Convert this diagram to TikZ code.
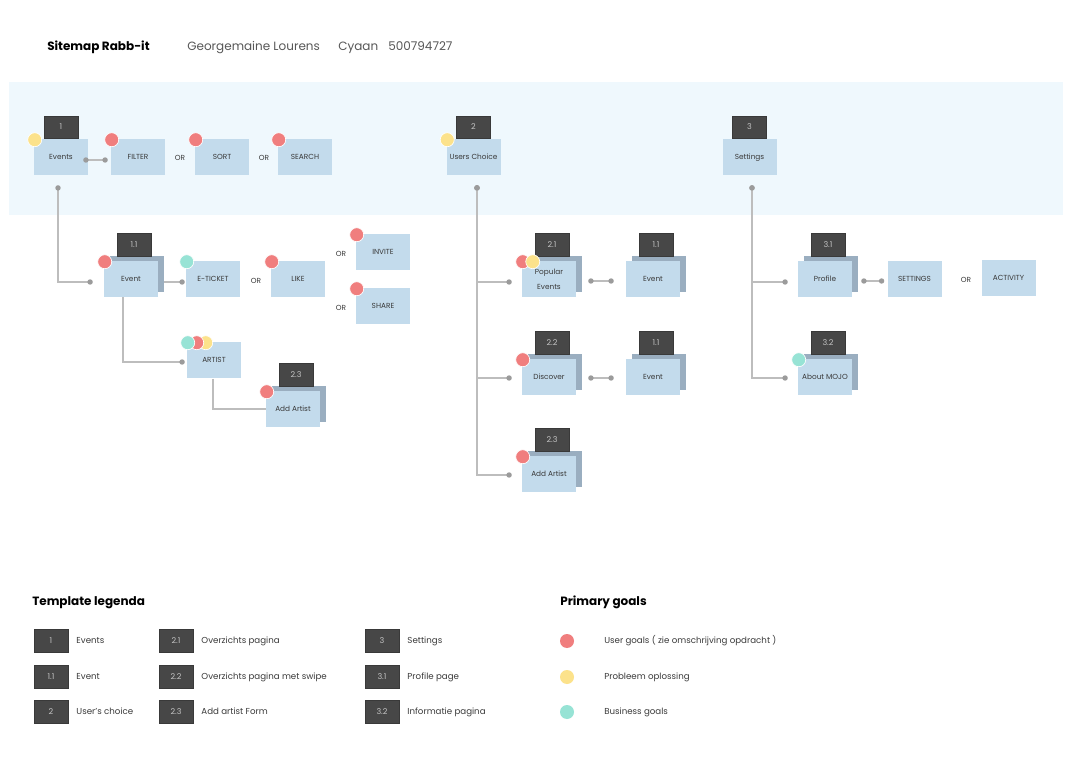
\documentclass[tikz,border=0pt]{standalone}
\usepackage{fontspec}
\setmainfont{Poppins}
\usetikzlibrary{arrows.meta,positioning}
\definecolor{bandc}{HTML}{EFF8FD}
\definecolor{pagec}{HTML}{C3DBEC}
\definecolor{backc}{HTML}{9AAEC0}
\definecolor{tabc}{HTML}{474747}
\definecolor{tabtxt}{HTML}{C4C4C4}
\definecolor{txtc}{HTML}{3A3A3A}
\definecolor{redc}{HTML}{F07E7E}
\definecolor{yelc}{HTML}{FCE28B}
\definecolor{cyanc}{HTML}{97E3D5}
\definecolor{linec}{HTML}{BDBDBD}
\definecolor{dotc}{HTML}{9B9B9B}
\tikzstyle{page}=[rectangle, fill=pagec, minimum width=40.5pt, minimum height=27pt, inner sep=0pt, align=center, text=txtc, text height=4pt, text depth=0.5pt, font=\fontsize{5.5}{11}\selectfont]
\tikzstyle{back}=[rectangle, fill=backc, minimum width=40.5pt, minimum height=27pt, inner sep=0pt]
\tikzstyle{tab}=[rectangle, fill=tabc, draw=tabc!80!black, line width=0.3pt, minimum width=25.5pt, minimum height=17pt, inner sep=0pt, text=tabtxt, text height=4.3pt, text depth=0.3pt, font=\fontsize{6}{7}\selectfont]
\tikzstyle{goal}=[circle, minimum size=10.5pt, inner sep=0pt, draw=white, line width=0.5pt]
\tikzstyle{ortext}=[inner sep=0pt, text=txtc, font=\fontsize{5.5}{7}\selectfont]
\tikzstyle{link}=[draw=linec, line width=0.9pt]
\tikzstyle{twodot}=[link, {Circle[length=4pt,color=dotc]}-{Circle[length=4pt,color=dotc]}]
\tikzstyle{enddot}=[link, -{Circle[length=4pt,color=dotc]}]
\tikzstyle{legtext}=[inner sep=0pt, anchor=west, text=txtc, text height=4.8pt, text depth=0.6pt, font=\fontsize{6.5}{8}\selectfont]
\tikzstyle{headtext}=[inner sep=0pt, anchor=base west, font=\fontsize{9}{11}\selectfont]
% page with a second sheet behind it and its number tab
\newcommand{\stackpage}[6][]{%
  \node[back] (#2bk) at ({#3+6},{#4-5}) {};
  \node[page,#1] (#2) at (#3,#4) {#6};
  \node[tab, anchor=south] (#2tab) at ({#3+3},{#4-23}) {#5};
}
\begin{document}
\begin{tikzpicture}[x=0.75pt,y=-0.75pt]
\useasboundingbox (0,0) rectangle (1072,759);
\fill[white] (0,0) rectangle (1072,759);
\fill[bandc] (9,82) rectangle (1063,215);

% header
\node[headtext, font=\fontsize{9}{11}\selectfont\bfseries] (title) at (47,51) {Sitemap Rabb-it};
\node[headtext, text=txtc!85] (author) at (187,51) {Georgemaine Lourens};
\node[headtext, text=txtc!85] (group) at (338,51) {Cyaan};
\node[headtext, text=txtc!85] (stnr) at (388,51) {500794727};

% level 1
\node[page] (events) at (61,157) {Events};
\node[tab, anchor=south] (eventstab) at (events.north) {1};
\node[page] (filter) at (138,157) {FILTER};
\node[ortext] (or1) at (180,158) {OR};
\node[page] (sort) at (222,157) {SORT};
\node[ortext] (or2) at (264,158) {OR};
\node[page] (search) at (305,157) {SEARCH};
\node[page] (users) at (473.5,157) {Users Choice};
\node[tab, anchor=south] (userstab) at (users.north) {2};
\node[page] (settings) at (749.5,157) {Settings};
\node[tab, anchor=south] (settingstab) at (settings.north) {3};

% level 2, events
\stackpage{event}{131}{279}{1.1}{Event}
\node[page] (eticket) at (213,279) {E-TICKET};
\node[ortext] (or3) at (256,281) {OR};
\node[page] (like) at (298,279) {LIKE};
\node[ortext] (or4) at (341,254) {OR};
\node[page] (invite) at (383,252) {INVITE};
\node[ortext] (or5) at (341,308) {OR};
\node[page] (share) at (383,306) {SHARE};
\node[page] (artist) at (214,360.5) {ARTIST};
\stackpage{addartist}{293}{409}{2.3}{Add Artist}

% level 2, users choice
\stackpage[text height=, text depth=]{popular}{549}{279}{2.1}{Popular\\Events}
\stackpage{popevent}{653}{279}{1.1}{Event}
\stackpage{discover}{549}{377}{2.2}{Discover}
\stackpage{discevent}{653}{377}{1.1}{Event}
\stackpage{addartistb}{549}{474}{2.3}{Add Artist}

% level 2, settings
\stackpage{profile}{825}{279}{3.1}{Profile}
\node[page] (setpage) at (914.5,279) {SETTINGS};
\node[ortext] (or6) at (966,280) {OR};
\node[page] (activity) at (1008.5,278) {ACTIVITY};
\stackpage{about}{825}{377}{3.2}{About MOJO}

% connectors
\draw[twodot] ([shift={(-5,3)}]events.east) -- ([shift={(-3,3)}]filter.west);
\draw[twodot] ([shift={(-3,10)}]events.south) |- ([shift={(-11,3)}]event.west);
\draw[enddot] ([shift={(0,8)}]eventbk.east) -- ([shift={(-1,3)}]eticket.west);
\draw[enddot] ([shift={(-8,0)}]event.south) |- ([shift={(-2,1.5)}]artist.west);
\draw[link] ([shift={(-1,0)}]artist.south) |- (addartist.west);
\draw[twodot] ([shift={(3.5,10)}]users.south) |- ([shift={(-10,3)}]popular.west);
\draw[twodot] ([shift={(3.5,10)}]users.south) |- ([shift={(-10,1)}]discover.west);
\draw[twodot] ([shift={(3.5,10)}]users.south) |- ([shift={(-10,1)}]addartistb.west);
\draw[twodot] ([shift={(6,7)}]popularbk.east) -- ([shift={(-12,2)}]popevent.west);
\draw[twodot] ([shift={(6,6)}]discoverbk.east) -- ([shift={(-12,1)}]discevent.west);
\draw[twodot] ([shift={(2.5,10)}]settings.south) |- ([shift={(-10,3)}]profile.west);
\draw[twodot] ([shift={(2.5,10)}]settings.south) |- ([shift={(-10,1)}]about.west);
\draw[twodot] ([shift={(3,7)}]profilebk.east) -- ([shift={(-3,2)}]setpage.west);

% goals
\node[goal, fill=yelc] (g1) at ([shift={(1,1)}]events.north west) {};
\node[goal, fill=redc] (g2) at ([shift={(1,1)}]filter.north west) {};
\node[goal, fill=redc] (g3) at ([shift={(1,1)}]sort.north west) {};
\node[goal, fill=redc] (g4) at ([shift={(1,1)}]search.north west) {};
\node[goal, fill=yelc] (g5) at ([shift={(1,1)}]users.north west) {};
\node[goal, fill=redc] (g6) at ([shift={(1,1)}]event.north west) {};
\node[goal, fill=cyanc] (g7) at ([shift={(1,1)}]eticket.north west) {};
\node[goal, fill=redc] (g8) at ([shift={(1,1)}]like.north west) {};
\node[goal, fill=redc] (g9) at ([shift={(1,1)}]invite.north west) {};
\node[goal, fill=redc] (g10) at ([shift={(1,1)}]share.north west) {};
\node[goal, fill=yelc] (g11) at ([shift={(19,0.5)}]artist.north west) {};
\node[goal, fill=redc] (g12) at ([shift={(10,0.5)}]artist.north west) {};
\node[goal, fill=cyanc] (g13) at ([shift={(1,0.5)}]artist.north west) {};
\node[goal, fill=redc] (g14) at ([shift={(1,1)}]addartist.north west) {};
\node[goal, fill=redc] (g15) at ([shift={(1,1)}]popular.north west) {};
\node[goal, fill=yelc] (g16) at ([shift={(11,1)}]popular.north west) {};
\node[goal, fill=redc] (g17) at ([shift={(1,1)}]discover.north west) {};
\node[goal, fill=redc] (g18) at ([shift={(1,1)}]addartistb.north west) {};
\node[goal, fill=cyanc] (g19) at ([shift={(1,1)}]about.north west) {};

% legend
\node[headtext, font=\fontsize{9}{11}\selectfont\bfseries] (legtitle) at (32,605) {Template legenda};
\foreach \x/\y/\num/\txt [count=\i] in {51/641/1/Events, 51/677/1.1/Event, 51/712/2/User's choice,
    176/641/2.1/Overzichts pagina, 176/677/2.2/Overzichts pagina met swipe, 176/712/2.3/Add artist Form,
    382/641/3/Settings, 382/677/3.1/Profile page, 382/712/3.2/Informatie pagina}{
  \node[tab] (lt\i) at (\x,\y) {\num};
  \node[legtext, right=6pt of lt\i] (ltx\i) {\txt};
}
\node[headtext, font=\fontsize{9}{11}\selectfont\bfseries] (goaltitle) at (560,605) {Primary goals};
\foreach \c/\y/\txt [count=\i] in {redc/641/User goals ( zie omschrijving opdracht ), yelc/677/Probleem oplossing, cyanc/712/Business goals}{
  \node[circle, fill=\c, minimum size=10.5pt, inner sep=0pt] (lg\i) at (567,\y) {};
  \node[legtext] (lgx\i) at (604,\y) {\txt};
}
\end{tikzpicture}
\end{document}
